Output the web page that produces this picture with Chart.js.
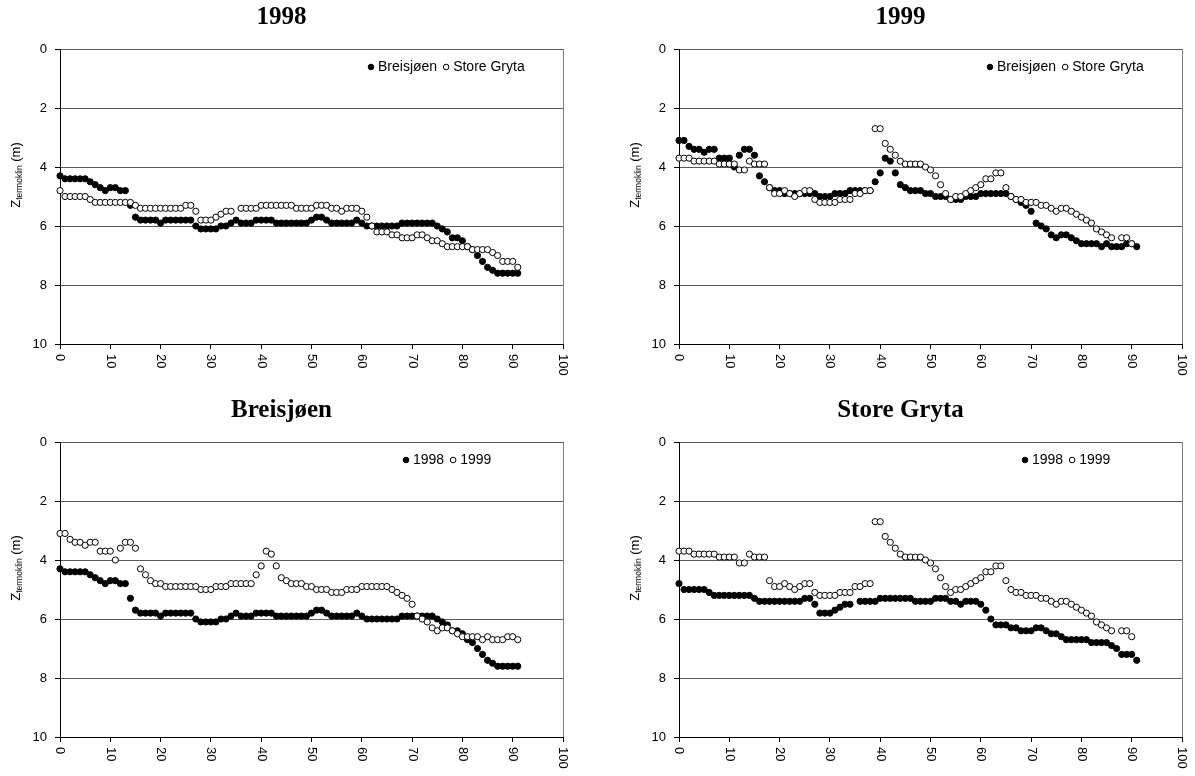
<!DOCTYPE html>
<html>
<head>
<meta charset="utf-8">
<script src="https://cdn.jsdelivr.net/npm/chart.js@4.4.1/dist/chart.umd.min.js"></script>
<style>
  html, body { margin: 0; padding: 0; background: #fff; overflow: hidden; }
  body { width: 1195px; height: 776px; position: relative; }
  canvas { position: absolute; }
</style>
</head>
<body>
<canvas id="c1998" width="576" height="393" style="left:0;top:0"></canvas>
<canvas id="c1999" width="576" height="393" style="left:619px;top:0"></canvas>
<canvas id="cBreis" width="576" height="383" style="left:0;top:393px"></canvas>
<canvas id="cGryta" width="576" height="383" style="left:619px;top:393px"></canvas>
<script>
// Dager etter start (x)
const dager = [0,1,2,3,4,5,6,7,8,9,10,11,12,13,14,15,16,17,18,19,20,21,22,23,24,25,26,27,28,29,
  30,31,32,33,34,35,36,37,38,39,40,41,42,43,44,45,46,47,48,49,50,51,52,53,54,55,56,57,58,59,
  60,61,62,63,64,65,66,67,68,69,70,71,72,73,74,75,76,77,78,79,80,81,82,83,84,85,86,87,88,89,90,91];

// Termoklindybde (m), lest av figuren
const breisjoen1998 = [4.3,4.4,4.4,4.4,4.4,4.4,4.5,4.6,4.7,4.8,4.7,4.7,4.8,4.8,5.3,5.7,
  5.8,5.8,5.8,5.8,5.9,5.8,5.8,5.8,5.8,5.8,5.8,
  6.0,6.1,6.1,6.1,6.1,6.0,6.0,5.9,5.8,
  5.9,5.9,5.9,5.8,5.8,5.8,5.8,5.9,5.9,5.9,5.9,5.9,5.9,5.9,
  5.8,5.7,5.7,5.8,5.9,5.9,5.9,5.9,5.9,5.8,5.9,
  6.0,6.0,6.0,6.0,6.0,6.0,6.0,
  5.9,5.9,5.9,5.9,5.9,5.9,5.9,
  6.0,6.1,6.2,6.4,6.4,6.5,6.7,6.8,7.0,7.2,7.4,7.5,
  7.6,7.6,7.6,7.6,7.6];

const storeGryta1998 = [4.8,5.0,5.0,5.0,5.0,5.0,5.1,5.2,5.2,5.2,5.2,5.2,5.2,5.2,5.2,5.3,
  5.4,5.4,5.4,5.4,5.4,5.4,5.4,5.4,5.4,5.3,5.3,5.5,5.8,5.8,5.8,5.7,5.6,5.5,5.5,null,
  5.4,5.4,5.4,5.4,5.3,5.3,5.3,5.3,5.3,5.3,5.3,5.4,5.4,5.4,5.4,5.3,5.3,5.3,5.4,5.4,5.5,5.4,5.4,5.4,5.5,
  5.7,6.0,6.2,6.2,6.2,6.3,6.3,6.4,6.4,6.4,6.3,6.3,6.4,6.5,6.5,6.6,6.7,6.7,6.7,6.7,6.7,
  6.8,6.8,6.8,6.8,6.9,7.0,7.2,7.2,7.2,7.4];

const breisjoen1999 = [3.1,3.1,3.3,3.4,3.4,3.5,3.4,3.4,
  3.7,3.7,3.7,4.0,3.6,3.4,3.4,3.6,
  4.3,4.5,4.7,4.8,4.8,
  4.9,4.9,4.9,4.9,4.9,4.9,4.9,5.0,5.0,5.0,4.9,4.9,4.9,4.8,4.8,4.8,4.8,4.8,
  4.5,4.2,3.7,3.8,4.2,4.6,4.7,
  4.8,4.8,4.8,4.9,4.9,
  5.0,5.0,5.0,5.1,5.1,5.1,5.0,5.0,5.0,
  4.9,4.9,4.9,4.9,4.9,4.9,5.0,5.1,5.2,5.3,5.5,
  5.9,6.0,6.1,6.3,6.4,6.3,6.3,6.4,6.5,
  6.6,6.6,6.6,6.6,6.7,6.6,6.7,6.7,6.7,6.6,6.6,6.7];

const storeGryta1999 = [3.7,3.7,3.7,3.8,3.8,3.8,3.8,3.8,3.9,3.9,3.9,3.9,4.1,4.1,3.8,3.9,3.9,3.9,
  4.7,4.9,4.9,4.8,4.9,5.0,4.9,4.8,4.8,5.1,5.2,5.2,5.2,5.2,5.1,5.1,5.1,4.9,4.9,4.8,4.8,
  2.7,2.7,3.2,3.4,3.6,3.8,3.9,3.9,3.9,3.9,4.0,4.1,4.3,4.6,4.9,5.1,5.0,5.0,4.9,4.8,4.7,4.6,4.4,4.4,4.2,4.2,
  4.7,5.0,5.1,5.1,5.2,5.2,5.2,5.3,5.3,5.4,5.5,5.4,5.4,5.5,5.6,5.7,5.8,5.9,6.1,6.2,6.3,6.4,null,6.4,6.4,6.6,null];

const xEtiketter = ['0','10','20','30','40','50','60','70','80','90','100'];
const yEtiketter = [0, 2, 4, 6, 8, 10];

const SANS = '"Liberation Sans", Arial, sans-serif';
const SERIF = '"Liberation Serif", "Times New Roman", serif';

function tilPunkter(verdier) {
  return dager.map((d, i) => ({ x: d, y: verdier[i] })).filter(p => p.y !== null);
}

// tegner x-etiketter (rotert), y-aksetittel og tegnforklaring
const tegnTekst = {
  id: 'tegnTekst',
  afterDraw(chart, args, opts) {
    const { ctx, chartArea, scales } = chart;
    ctx.save();
    ctx.fillStyle = '#000';

    ctx.font = '13px ' + SANS;
    ctx.textAlign = 'left';
    ctx.textBaseline = 'middle';
    xEtiketter.forEach(t => {
      const x = scales.x.getPixelForValue(Number(t));
      ctx.save();
      ctx.translate(x, chartArea.bottom + 10);
      ctx.rotate(Math.PI / 2);
      ctx.fillText(t, 0, 0);
      ctx.restore();
    });

    // Z_termoklin (m)
    ctx.save();
    ctx.textBaseline = 'alphabetic';
    const stor = '13px ' + SANS, liten = '8.5px ' + SANS;
    ctx.font = stor; const wZ = ctx.measureText('Z').width; const wM = ctx.measureText(' (m)').width;
    ctx.font = liten; const wSub = ctx.measureText('termoklin').width;
    const total = wZ + wSub + wM;
    ctx.translate(20, chartArea.top + 126);
    ctx.rotate(-Math.PI / 2);
    let px = -total / 2;
    ctx.font = stor; ctx.fillText('Z', px, 0); px += wZ;
    ctx.font = liten; ctx.fillText('termoklin', px, 1.5); px += wSub;
    ctx.font = stor; ctx.fillText(' (m)', px, 0);
    ctx.restore();

    // tegnforklaring
    const y = chartArea.top + 18;
    let x = chartArea.left + opts.legendX;
    ctx.font = '14px ' + SANS;
    ctx.textBaseline = 'middle';
    chart.data.datasets.slice().sort((a, b) => a.legendPos - b.legendPos).forEach(ds => {
      ctx.beginPath();
      ctx.arc(x, y, 2.8, 0, Math.PI * 2);
      ctx.fillStyle = ds.pointBackgroundColor;
      ctx.fill();
      ctx.lineWidth = 1;
      ctx.strokeStyle = '#000';
      ctx.stroke();
      ctx.fillStyle = '#000';
      x += 7;
      ctx.fillText(ds.label, x, y + 0.5);
      x += ctx.measureText(ds.label).width + 9;
    });
    ctx.restore();
  }
};

function lagFigur(id, tittel, fylt, fyltNavn, apen, apenNavn, legendX) {
  new Chart(document.getElementById(id), {
    type: 'scatter',
    data: {
      datasets: [
        {
          label: apenNavn, data: tilPunkter(apen), order: 1, legendPos: 2,
          pointRadius: 3.1, pointBorderWidth: 1,
          pointBackgroundColor: '#fff', pointBorderColor: '#000', clip: false
        },
        {
          label: fyltNavn, data: tilPunkter(fylt), order: 2, legendPos: 1,
          pointRadius: 3.1, pointBorderWidth: 1,
          pointBackgroundColor: '#000', pointBorderColor: '#000', clip: false
        }
      ]
    },
    options: {
      responsive: false,
      animation: false,
      layout: { padding: { left: 0, right: 13, top: 0, bottom: document.getElementById(id).height - 344 - 30 } },
      plugins: {
        legend: { display: false },
        tooltip: { enabled: false },
        title: {
          display: true, text: tittel, color: '#000',
          font: { family: SERIF, size: 25, weight: 'bold', lineHeight: 1.2 },
          padding: { top: 3, bottom: 16 }
        },
        tegnTekst: { legendX: legendX }
      },
      scales: {
        x: {
          type: 'linear', min: 0, max: 100,
          afterBuildTicks: s => { s.ticks = xEtiketter.map(v => ({ value: Number(v) })); },
          ticks: { display: false },
          grid: {
            color: c => (c.tick && c.tick.value === 100) ? '#808080' : 'rgba(0,0,0,0)',
            tickColor: '#000', tickLength: 5
          },
          border: { color: '#000' },
          afterFit: s => { s.height = 30; }
        },
        y: {
          type: 'linear', min: 0, max: 10, reverse: true,
          afterBuildTicks: s => { s.ticks = yEtiketter.map(v => ({ value: v })); },
          ticks: { color: '#000', font: { family: SANS, size: 13 }, padding: 8 },
          grid: { color: '#5a5a5a', tickColor: '#000', tickLength: 5 },
          border: { color: '#000' },
          afterFit: s => { s.width = 60; }
        }
      }
    },
    plugins: [tegnTekst]
  });
}

lagFigur('c1998', '1998', breisjoen1998, 'Breisjøen', storeGryta1998, 'Store Gryta', 311);
lagFigur('c1999', '1999', breisjoen1999, 'Breisjøen', storeGryta1999, 'Store Gryta', 311);
lagFigur('cBreis', 'Breisjøen', breisjoen1998, '1998', breisjoen1999, '1999', 346);
lagFigur('cGryta', 'Store Gryta', storeGryta1998, '1998', storeGryta1999, '1999', 346);
</script>
</body>
</html>
